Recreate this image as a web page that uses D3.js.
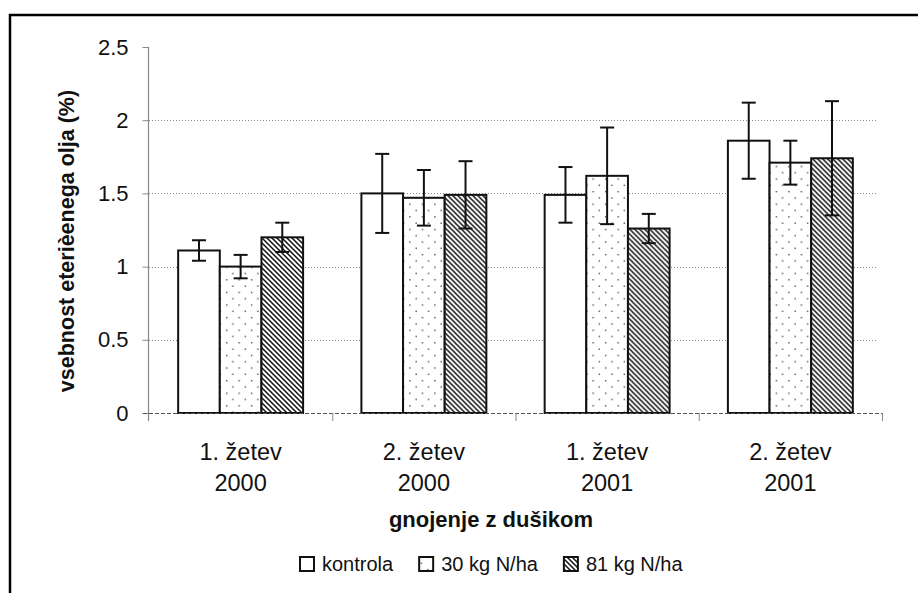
<!DOCTYPE html>
<html>
<head>
<meta charset="utf-8">
<script src="https://cdn.jsdelivr.net/npm/d3@7"></script>
<style>
  html, body { margin: 0; padding: 0; background: #fff; }
  svg { display: block; }
  text { font-family: "Liberation Sans", Arial, sans-serif; fill: #111; }
</style>
</head>
<body>
<svg id="chart" width="918" height="593"></svg>
<script>
// ---- data ----
const categories = [["1. žetev", "2000"], ["2. žetev", "2000"], ["1. žetev", "2001"], ["2. žetev", "2001"]];
const seriesNames = ["kontrola", "30 kg N/ha", "81 kg N/ha"];
const kontrola = [1.11, 1.50, 1.49, 1.86];
const kg30 = [1.00, 1.47, 1.62, 1.71];
const kg81 = [1.20, 1.49, 1.26, 1.74];
const errKontrola = [0.07, 0.27, 0.19, 0.26];
const err30 = [0.08, 0.19, 0.33, 0.15];
const err81 = [0.10, 0.23, 0.10, 0.39];
const yTicks = [0, 0.5, 1, 1.5, 2, 2.5];
const gridTicks = [0.5, 1, 1.5, 2];
const yTitle = "vsebnost eterièenega olja (%)";
const xTitle = "gnojenje z dušikom";

const seriesValues = [kontrola, kg30, kg81];
const seriesErrors = [errKontrola, err30, err81];
const fills = ["#fff", "url(#dots)", "url(#hatch)"];

const svg = d3.select("#chart");

// patterns
const defs = svg.append("defs");
const dots = defs.append("pattern").attr("id", "dots").attr("patternUnits", "userSpaceOnUse")
  .attr("width", 12.5).attr("height", 12.6);
dots.append("rect").attr("width", 12.5).attr("height", 12.6).attr("fill", "#fff");
dots.append("rect").attr("x", 2).attr("y", 2).attr("width", 1.3).attr("height", 1.3).attr("fill", "#333");
dots.append("rect").attr("x", 8.25).attr("y", 8.3).attr("width", 1.3).attr("height", 1.3).attr("fill", "#333");

const hs = 5;
const hatch = defs.append("pattern").attr("id", "hatch").attr("patternUnits", "userSpaceOnUse")
  .attr("width", hs).attr("height", hs);
hatch.append("rect").attr("width", hs).attr("height", hs).attr("fill", "#fff");
hatch.append("path")
  .attr("d", `M${-1},${-1}L${hs + 1},${hs + 1}M${-1},${hs - 1}L1,${hs + 1}M${hs - 1},-1L${hs + 1},1`)
  .attr("stroke", "#111").attr("stroke-width", 1.5);

// frame
svg.append("path").attr("d", "M10,593V15H918").attr("fill", "none").attr("stroke", "#000").attr("stroke-width", 2.5);

// scales
const x0 = d3.scaleBand().domain(d3.range(categories.length)).range([149, 882]).paddingInner(0).paddingOuter(0);
const x1 = d3.scaleBand().domain(d3.range(seriesNames.length)).range([0, x0.bandwidth()]).paddingInner(0).paddingOuter(0.7);
const y = d3.scaleLinear().domain([0, 2.5]).range([413, 47]);

// gridlines
svg.append("g").selectAll("line").data(gridTicks).join("line")
  .attr("x1", x0.range()[0]).attr("x2", 877)
  .attr("y1", d => Math.round(y(d)) + 0.5).attr("y2", d => Math.round(y(d)) + 0.5)
  .attr("stroke", "#8a8a8a").attr("stroke-width", 1).attr("stroke-dasharray", "1,2");

// y axis
const yAxis = svg.append("g").attr("transform", `translate(${x0.range()[0] - 0.5},0)`)
  .call(d3.axisLeft(y).tickValues(yTicks).tickFormat(d3.format("")).tickSize(6).tickPadding(14).tickSizeOuter(0));
yAxis.select(".domain").remove();
yAxis.selectAll(".tick line").attr("stroke", "#888");
yAxis.selectAll(".tick text").style("font-size", "22px").style("font-family", "'Liberation Sans', Arial, sans-serif").attr("fill", "#222");
svg.append("line").attr("x1", x0.range()[0] - 0.5).attr("x2", x0.range()[0] - 0.5)
  .attr("y1", y(2.5)).attr("y2", y(0) + 8).attr("stroke", "#888").attr("stroke-width", 1.2);

// bars
const groups = svg.append("g").selectAll("g").data(categories).join("g")
  .attr("transform", (d, i) => `translate(${x0(i)},0)`);

seriesValues.forEach((vals, s) => {
  groups.append("rect")
    .attr("x", (d, i) => x1(s))
    .attr("y", (d, i) => y(vals[i]))
    .attr("width", x1.bandwidth())
    .attr("height", (d, i) => y(0) - y(vals[i]))
    .attr("fill", fills[s])
    .attr("stroke", "#111").attr("stroke-width", 2);
});

// x axis (dashed baseline) and category ticks
svg.append("line").attr("x1", x0.range()[0] - 6).attr("x2", x0.range()[1])
  .attr("y1", y(0) + 0.5).attr("y2", y(0) + 0.5)
  .attr("stroke", "#555").attr("stroke-width", 1).attr("stroke-dasharray", "4,2");
svg.append("g").selectAll("line").data(d3.range(1, categories.length + 1)).join("line")
  .attr("x1", i => (i < categories.length ? x0(i) : x0.range()[1]) + 0.5)
  .attr("x2", i => (i < categories.length ? x0(i) : x0.range()[1]) + 0.5)
  .attr("y1", y(0)).attr("y2", y(0) + 8)
  .attr("stroke", "#888").attr("stroke-width", 1);

// error bars
seriesValues.forEach((vals, s) => {
  const errs = seriesErrors[s];
  const cx = i => x0(i) + x1(s) + x1.bandwidth() / 2;
  const eg = svg.append("g").attr("stroke", "#111").attr("stroke-width", 2);
  eg.selectAll("line.v").data(vals).join("line").attr("class", "v")
    .attr("x1", (d, i) => cx(i)).attr("x2", (d, i) => cx(i))
    .attr("y1", (d, i) => y(d + errs[i])).attr("y2", (d, i) => y(d - errs[i]));
  eg.selectAll("line.t").data(vals).join("line").attr("class", "t")
    .attr("x1", (d, i) => cx(i) - 7).attr("x2", (d, i) => cx(i) + 7)
    .attr("y1", (d, i) => y(d + errs[i])).attr("y2", (d, i) => y(d + errs[i]));
  eg.selectAll("line.b").data(vals).join("line").attr("class", "b")
    .attr("x1", (d, i) => cx(i) - 7).attr("x2", (d, i) => cx(i) + 7)
    .attr("y1", (d, i) => y(d - errs[i])).attr("y2", (d, i) => y(d - errs[i]));
});

// category labels
const lab = svg.append("g").selectAll("text").data(categories).join("text")
  .attr("text-anchor", "middle").style("font-size", "23.5px").attr("fill", "#222")
  .attr("x", (d, i) => x0(i) + x0.bandwidth() / 2);
lab.append("tspan").attr("y", 460).attr("x", (d, i) => x0(i) + x0.bandwidth() / 2).text(d => d[0]);
lab.append("tspan").attr("y", 491).attr("x", (d, i) => x0(i) + x0.bandwidth() / 2).text(d => d[1]);

// axis titles
svg.append("text").attr("x", 491).attr("y", 527).attr("text-anchor", "middle")
  .style("font-size", "22px").style("font-weight", "bold").text(xTitle);
svg.append("text").attr("transform", "translate(74,241) rotate(-90)").attr("text-anchor", "middle")
  .style("font-size", "21.5px").style("font-weight", "bold").text(yTitle);

// legend
const leg = svg.append("g");
let lx = 300;
seriesNames.forEach((name, s) => {
  leg.append("rect").attr("x", lx).attr("y", 557).attr("width", 14).attr("height", 14)
    .attr("fill", fills[s]).attr("stroke", "#111").attr("stroke-width", 2);
  const t = leg.append("text").attr("x", lx + 22).attr("y", 571).style("font-size", "20px").attr("fill", "#222").text(name);
  lx += 22 + t.node().getComputedTextLength() + 26;
});
</script>
</body>
</html>
